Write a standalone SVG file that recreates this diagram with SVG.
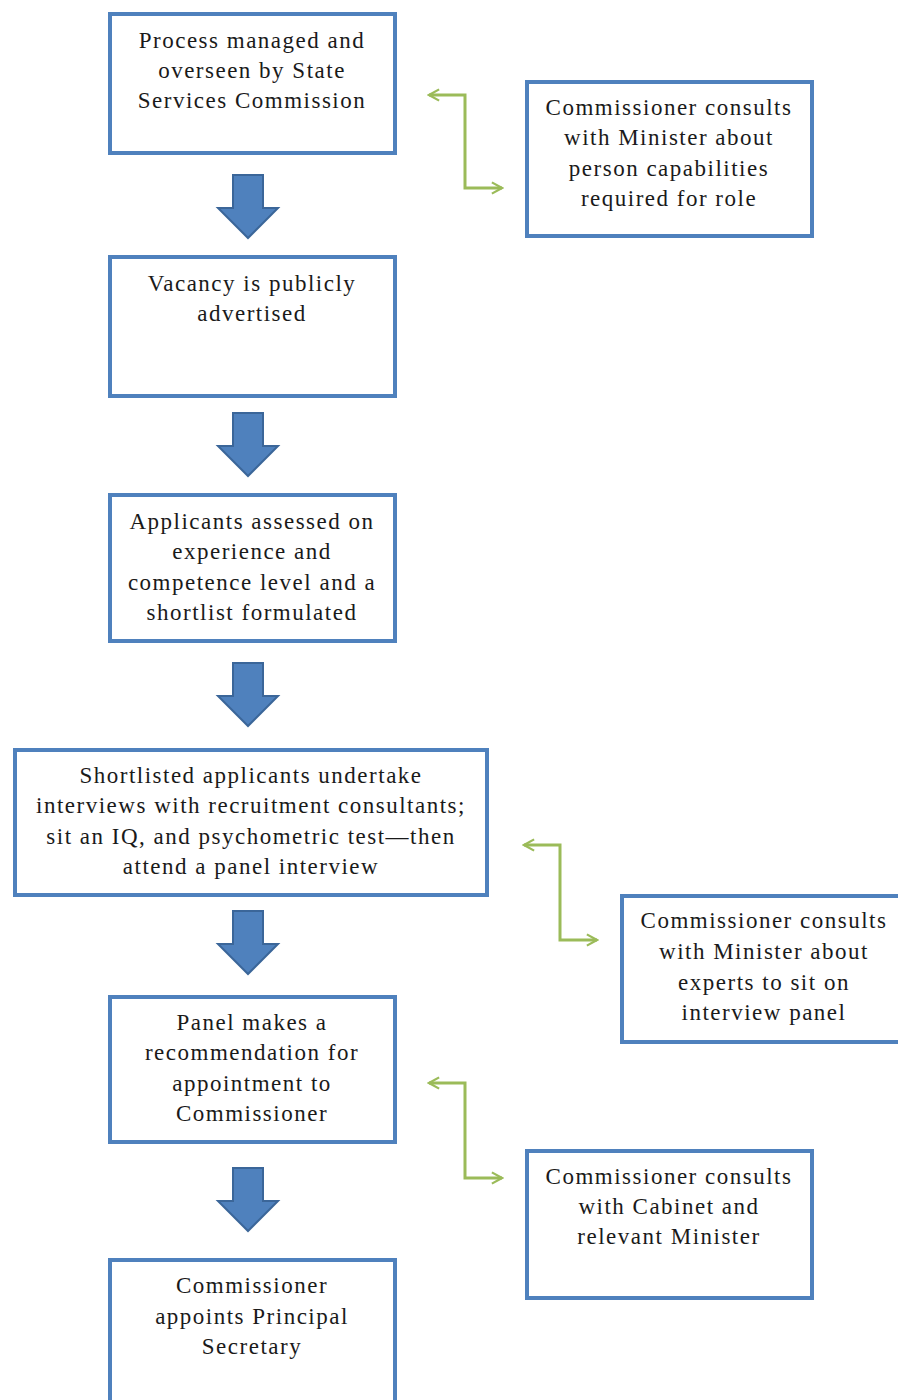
<svg xmlns="http://www.w3.org/2000/svg" width="898" height="1400" viewBox="0 0 898 1400">
<style>
.box{fill:#fff;stroke:#4F81BD;stroke-width:4}
.t{font-family:"Liberation Serif",serif;font-size:23px;letter-spacing:1.5px;fill:#1a1a1a;text-anchor:middle}
.blk{fill:#4F81BD;stroke:#3B6699;stroke-width:2;stroke-linejoin:miter}
.con{fill:none;stroke:#9BBB59;stroke-width:3}
</style>
<defs>
<marker id="ah" viewBox="0 0 12 12" refX="10" refY="6" markerWidth="4.5" markerHeight="4.5" orient="auto-start-reverse" markerUnits="strokeWidth">
<path d="M1,1 L10,6 L1,11" fill="none" stroke="#9BBB59" stroke-width="2"/>
</marker>
<path id="barrow" d="M-15,0 H15 V33 H30 L0,63 L-30,33 H-15 Z"/>
</defs>
<rect width="898" height="1400" fill="#fff"/>
<g id="connectors">
<use href="#barrow" class="blk" x="248" y="175"/>
<use href="#barrow" class="blk" x="248" y="413"/>
<use href="#barrow" class="blk" x="248" y="663"/>
<use href="#barrow" class="blk" x="248" y="911"/>
<use href="#barrow" class="blk" x="248" y="1168"/>
<path class="con" d="M429,95 H465 V188 H502" marker-start="url(#ah)" marker-end="url(#ah)"/>
<path class="con" d="M524,845 H560 V940 H597" marker-start="url(#ah)" marker-end="url(#ah)"/>
<path class="con" d="M429,1083 H465 V1178 H502" marker-start="url(#ah)" marker-end="url(#ah)"/>
</g>
<g id="n1"><rect class="box" x="110" y="14" width="285" height="139"/>
<text class="t" x="252" y="48">Process managed and</text>
<text class="t" x="252" y="78">overseen by State</text>
<text class="t" x="252" y="108">Services Commission</text></g>
<g id="n2"><rect class="box" x="527" y="82" width="285" height="154"/>
<text class="t" x="669" y="115">Commissioner consults</text>
<text class="t" x="669" y="145">with Minister about</text>
<text class="t" x="669" y="176">person capabilities</text>
<text class="t" x="669" y="206">required for role</text></g>
<g id="n3"><rect class="box" x="110" y="257" width="285" height="139"/>
<text class="t" x="252" y="291">Vacancy is publicly</text>
<text class="t" x="252" y="321">advertised</text></g>
<g id="n4"><rect class="box" x="110" y="495" width="285" height="146"/>
<text class="t" x="252" y="529">Applicants assessed on</text>
<text class="t" x="252" y="559">experience and</text>
<text class="t" x="252" y="590">competence level and a</text>
<text class="t" x="252" y="620">shortlist formulated</text></g>
<g id="n5"><rect class="box" x="15" y="750" width="472" height="145"/>
<text class="t" x="251" y="783">Shortlisted applicants undertake</text>
<text class="t" x="251" y="813">interviews with recruitment consultants;</text>
<text class="t" x="251" y="844">sit an IQ, and psychometric test—then</text>
<text class="t" x="251" y="874">attend a panel interview</text></g>
<g id="n6"><rect class="box" x="622" y="896" width="290" height="146"/>
<text class="t" x="764" y="928">Commissioner consults</text>
<text class="t" x="764" y="959">with Minister about</text>
<text class="t" x="764" y="990">experts to sit on</text>
<text class="t" x="764" y="1020">interview panel</text></g>
<g id="n7"><rect class="box" x="110" y="997" width="285" height="145"/>
<text class="t" x="252" y="1030">Panel makes a</text>
<text class="t" x="252" y="1060">recommendation for</text>
<text class="t" x="252" y="1091">appointment to</text>
<text class="t" x="252" y="1121">Commissioner</text></g>
<g id="n8"><rect class="box" x="527" y="1151" width="285" height="147"/>
<text class="t" x="669" y="1184">Commissioner consults</text>
<text class="t" x="669" y="1214">with Cabinet and</text>
<text class="t" x="669" y="1244">relevant Minister</text></g>
<g id="n9"><rect class="box" x="110" y="1260" width="285" height="160"/>
<text class="t" x="252" y="1293">Commissioner</text>
<text class="t" x="252" y="1324">appoints Principal</text>
<text class="t" x="252" y="1354">Secretary</text></g>
</svg>
